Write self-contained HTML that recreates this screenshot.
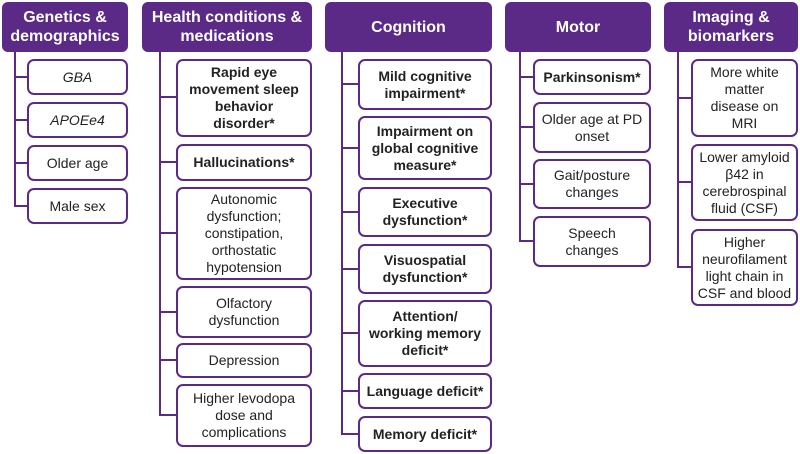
<!DOCTYPE html>
<html><head><meta charset="utf-8"><style>
body{margin:0;width:800px;height:454px;background:#fff;position:relative;overflow:hidden;font-family:"Liberation Sans",sans-serif}
.h{position:absolute;top:2px;height:50px;background:#5b2a86;border-radius:6px;color:#fff;font-weight:bold;font-size:16px;line-height:19px;display:flex;align-items:center;justify-content:center;text-align:center}
.b{position:absolute;border:2px solid #5b2a86;border-radius:7px;box-sizing:border-box;display:flex;align-items:center;justify-content:center;text-align:center;font-size:14px;line-height:17px;color:#222;padding:0 2px;white-space:nowrap}
.bd{font-weight:bold}
.v{position:absolute;width:2px;background:#5b2a86}
.l{position:absolute;height:2px;background:#5b2a86}
</style></head><body>
<div class="h" style="left:2px;width:126px">Genetics &amp;<br>demographics</div>
<div class="h" style="left:142px;width:170px">Health conditions &amp;<br>medications</div>
<div class="h" style="left:325px;width:167px">Cognition</div>
<div class="h" style="left:505px;width:146px">Motor</div>
<div class="h" style="left:664px;width:134px">Imaging &amp;<br>biomarkers</div>

<div class="v" style="left:14px;top:52px;height:155px"></div>
<div class="l" style="left:14px;top:76px;width:14px"></div>
<div class="l" style="left:14px;top:119px;width:14px"></div>
<div class="l" style="left:14px;top:162px;width:14px"></div>
<div class="l" style="left:14px;top:205px;width:14px"></div>
<div class="b" style="left:27px;top:59px;width:101px;height:36px"><i>GBA</i></div>
<div class="b" style="left:27px;top:102px;width:101px;height:36px"><i>APOEe4</i></div>
<div class="b" style="left:27px;top:145px;width:101px;height:36px">Older age</div>
<div class="b" style="left:27px;top:188px;width:101px;height:36px">Male sex</div>

<div class="v" style="left:159px;top:52px;height:364px"></div>
<div class="l" style="left:159px;top:96px;width:18px"></div>
<div class="l" style="left:159px;top:161px;width:18px"></div>
<div class="l" style="left:159px;top:232px;width:18px"></div>
<div class="l" style="left:159px;top:311px;width:18px"></div>
<div class="l" style="left:159px;top:359px;width:18px"></div>
<div class="l" style="left:159px;top:414px;width:18px"></div>
<div class="b bd" style="left:176px;top:59px;width:136px;height:78px">Rapid eye<br>movement sleep<br>behavior<br>disorder*</div>
<div class="b bd" style="left:176px;top:144px;width:136px;height:37px">Hallucinations*</div>
<div class="b" style="left:176px;top:187px;width:136px;height:93px">Autonomic<br>dysfunction;<br>constipation,<br>orthostatic<br>hypotension</div>
<div class="b" style="left:176px;top:286px;width:136px;height:52px">Olfactory<br>dysfunction</div>
<div class="b" style="left:176px;top:343px;width:136px;height:35px">Depression</div>
<div class="b" style="left:176px;top:384px;width:136px;height:63px">Higher levodopa<br>dose and<br>complications</div>

<div class="v" style="left:341px;top:52px;height:383px"></div>
<div class="l" style="left:341px;top:83px;width:18px"></div>
<div class="l" style="left:341px;top:147px;width:18px"></div>
<div class="l" style="left:341px;top:211px;width:18px"></div>
<div class="l" style="left:341px;top:268px;width:18px"></div>
<div class="l" style="left:341px;top:332px;width:18px"></div>
<div class="l" style="left:341px;top:390px;width:18px"></div>
<div class="l" style="left:341px;top:433px;width:18px"></div>
<div class="b bd" style="left:358px;top:59px;width:134px;height:51px">Mild cognitive<br>impairment*</div>
<div class="b bd" style="left:358px;top:116px;width:134px;height:64px">Impairment on<br>global cognitive<br>measure*</div>
<div class="b bd" style="left:358px;top:187px;width:134px;height:50px">Executive<br>dysfunction*</div>
<div class="b bd" style="left:358px;top:244px;width:134px;height:50px">Visuospatial<br>dysfunction*</div>
<div class="b bd" style="left:358px;top:300px;width:134px;height:67px">Attention/<br>working memory<br>deficit*</div>
<div class="b bd" style="left:358px;top:373px;width:134px;height:36px">Language deficit*</div>
<div class="b bd" style="left:358px;top:416px;width:134px;height:36px">Memory deficit*</div>

<div class="v" style="left:519px;top:52px;height:190px"></div>
<div class="l" style="left:519px;top:76px;width:15px"></div>
<div class="l" style="left:519px;top:126px;width:15px"></div>
<div class="l" style="left:519px;top:183px;width:15px"></div>
<div class="l" style="left:519px;top:240px;width:15px"></div>
<div class="b bd" style="left:533px;top:59px;width:118px;height:36px">Parkinsonism*</div>
<div class="b" style="left:533px;top:102px;width:118px;height:51px">Older age at PD<br>onset</div>
<div class="b" style="left:533px;top:159px;width:118px;height:50px">Gait/posture<br>changes</div>
<div class="b" style="left:533px;top:216px;width:118px;height:51px">Speech<br>changes</div>

<div class="v" style="left:677px;top:52px;height:216px"></div>
<div class="l" style="left:677px;top:97px;width:15px"></div>
<div class="l" style="left:677px;top:181px;width:15px"></div>
<div class="l" style="left:677px;top:266px;width:15px"></div>
<div class="b" style="left:691px;top:59px;width:107px;height:78px">More white<br>matter<br>disease on<br>MRI</div>
<div class="b" style="left:691px;top:144px;width:107px;height:77px;padding:0">Lower amyloid<br>β42 in<br>cerebrospinal<br>fluid (CSF)</div>
<div class="b" style="left:691px;top:229px;width:107px;height:77px;padding:0">Higher<br>neurofilament<br>light chain in<br>CSF and blood</div>
</body></html>
